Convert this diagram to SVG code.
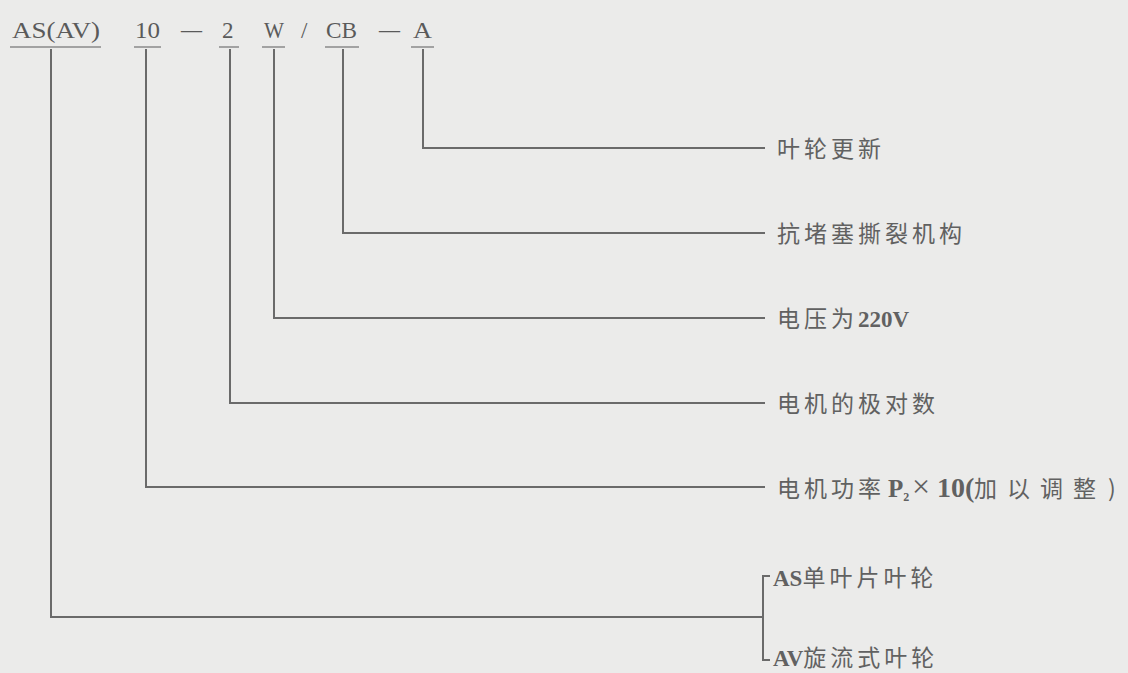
<svg xmlns="http://www.w3.org/2000/svg" width="1128" height="673" viewBox="0 0 1128 673">
<style>
.bg{fill:#ebebea}
.code{font-family:"Liberation Serif",serif;font-size:23px;fill:#5a5a5a}
.lbl{font-family:"Noto Sans CJK SC",sans-serif;font-size:23px;fill:#616161;letter-spacing:4px}
.lat{font-family:"Liberation Serif","Noto Sans CJK SC",serif;font-weight:bold;letter-spacing:0}
.ln{stroke:#6a6a6a;stroke-width:2;fill:none}
.ul{stroke:#8a8a8a;stroke-width:1.5}
</style>
<rect class="bg" x="0" y="0" width="1128" height="673"/>
<g id="code">
<text class="code" x="12" y="38" textLength="88" lengthAdjust="spacingAndGlyphs">AS(AV)</text>
<text class="code" x="135" y="38" textLength="25" lengthAdjust="spacingAndGlyphs">10</text>
<text class="code" x="181" y="37" textLength="21" lengthAdjust="spacingAndGlyphs">—</text>
<text class="code" x="222" y="38">2</text>
<text class="code" x="264" y="38" textLength="20" lengthAdjust="spacingAndGlyphs">W</text>
<text class="code" x="301" y="38">/</text>
<text class="code" x="326" y="38" textLength="31" lengthAdjust="spacingAndGlyphs">CB</text>
<text class="code" x="379" y="37" textLength="21" lengthAdjust="spacingAndGlyphs">—</text>
<text class="code" x="413" y="38" textLength="19" lengthAdjust="spacingAndGlyphs">A</text>
<line class="ul" x1="10" y1="47" x2="101" y2="47"/>
<line class="ul" x1="134" y1="47" x2="161" y2="47"/>
<line class="ul" x1="219" y1="47" x2="239" y2="47"/>
<line class="ul" x1="262" y1="47" x2="285" y2="47"/>
<line class="ul" x1="325" y1="47" x2="359" y2="47"/>
<line class="ul" x1="411" y1="47" x2="434" y2="47"/>
</g>
<g id="connectors">
<polyline class="ln" points="423,49 423,148 765,148"/>
<polyline class="ln" points="343,49 343,233 765,233"/>
<polyline class="ln" points="274,49 274,318 765,318"/>
<polyline class="ln" points="230,49 230,403 765,403"/>
<polyline class="ln" points="146,49 146,487 765,487"/>
<polyline class="ln" points="51,49 51,617 763,617"/>
<polyline class="ln" points="770,576 763,576 763,660 770,660"/>
</g>
<g id="n-a"><text class="lbl" x="777" y="157">叶轮更新</text></g>
<g id="n-cb"><text class="lbl" x="777" y="242">抗堵塞撕裂机构</text></g>
<g id="n-w"><text class="lbl" x="777" y="327">电压为<tspan class="lat">220V</tspan></text></g>
<g id="n-2"><text class="lbl" x="777" y="412">电机的极对数</text></g>
<g id="n-10"><text class="lbl" x="777" y="497" letter-spacing="5">电机功率<tspan class="lat" font-size="25" x="888">P<tspan font-size="12" dy="4">2</tspan><tspan dy="-4" x="912" font-size="32" font-weight="normal">×</tspan><tspan x="937" font-size="28">10(</tspan></tspan><tspan x="974" letter-spacing="10">加以调整</tspan><tspan x="1108">)</tspan></text></g>
<g id="n-as"><text class="lbl" x="773" y="586"><tspan class="lat">AS</tspan>单叶片叶轮</text></g>
<g id="n-av"><text class="lbl" x="773" y="666"><tspan class="lat">AV</tspan>旋流式叶轮</text></g>
</svg>
